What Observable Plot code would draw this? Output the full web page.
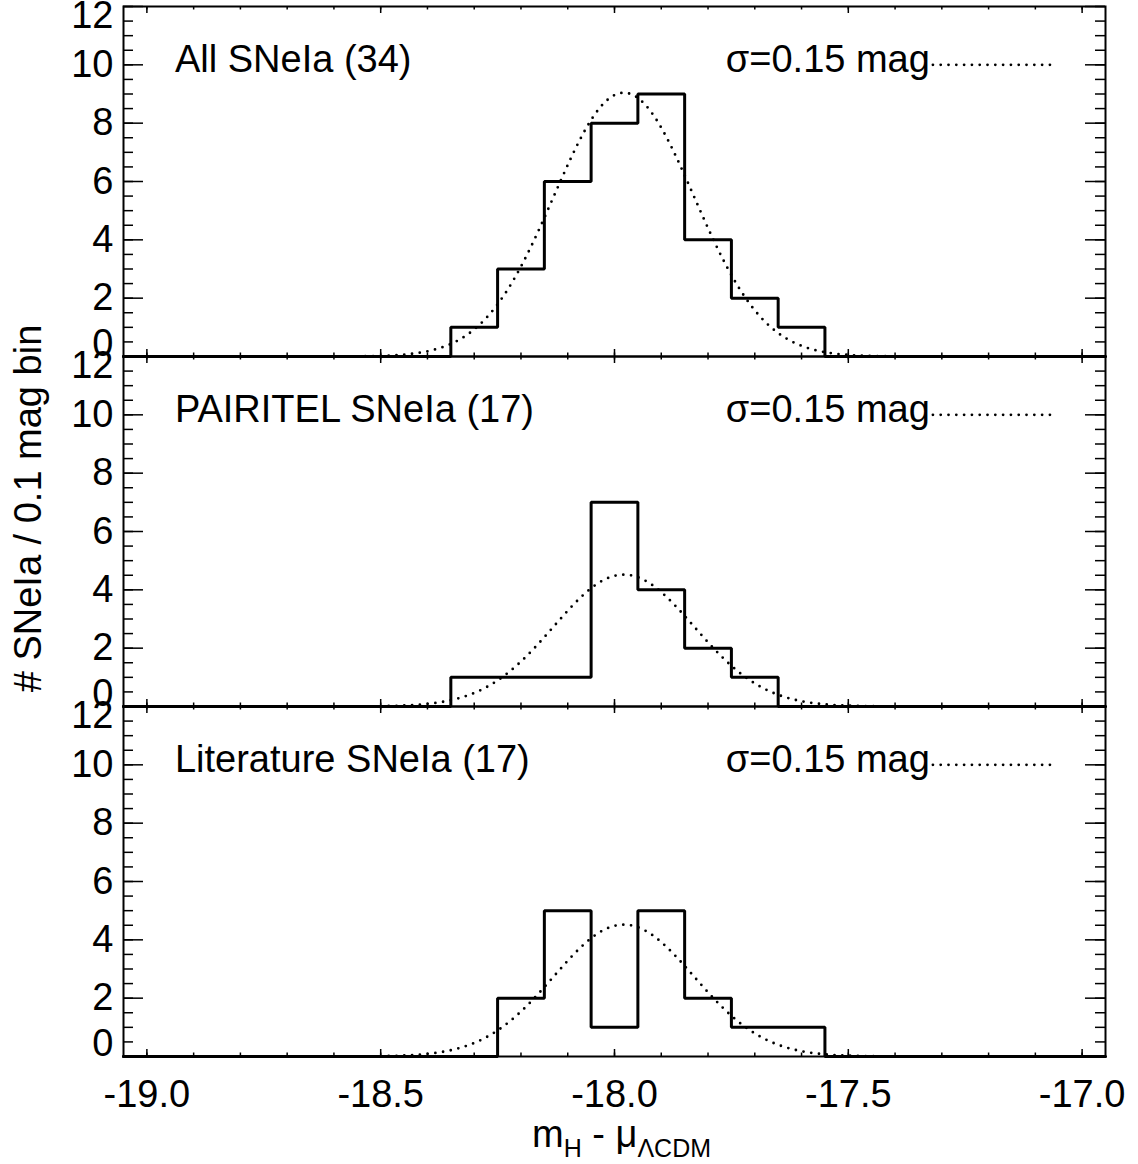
<!DOCTYPE html>
<html><head><meta charset="utf-8">
<script src="https://cdn.jsdelivr.net/npm/d3@7"></script>
<script src="https://cdn.jsdelivr.net/npm/@observablehq/plot@0.6"></script>
<style>
html,body{margin:0;padding:0;background:#fff;}
#chart svg{display:block;}
</style></head><body><div id="chart"></div>
<script>
// ---- data ----
const panelKeys = ["all", "pairitel", "lit"];
const panelLabels = ["All SNeIa (34)", "PAIRITEL SNeIa (17)", "Literature SNeIa (17)"];
const panelCounts = [34, 17, 17];
const binLefts = [-18.35, -18.25, -18.15, -18.05, -17.95, -17.85, -17.75, -17.65];
const countsAll = [1, 3, 6, 8, 9, 4, 2, 1];
const countsPairitel = [1, 1, 1, 7, 4, 2, 1, 0];
const countsLiterature = [0, 2, 5, 1, 5, 2, 1, 1];
const binWidth = 0.1;
const gaussMean = -17.98;
const gaussSigma = 0.15;
const legendText = "σ=0.15 mag";
const xTickValues = [-19.0, -18.5, -18.0, -17.5, -17.0];
const yTickValues = [0, 2, 4, 6, 8, 10, 12];
const xTitle = "m_H - μ_ΛCDM";
const yTitle = "# SNeIa / 0.1 mag bin";

// ---- layout ----
const W = 1138, H = 1164, mt = 5, mb = 107, ml = 123, mr = 33;
const xDomain = [-19.05, -16.95];
const yDomain = [0, 12];
const ux = (xDomain[1] - xDomain[0]) / (W - ml - mr);        // data units per px (x)
const facetH = (H - mt - mb) / 3;
const uy = (yDomain[1] - yDomain[0]) / facetH;               // data units per px (y)
const FONT = "Liberation Sans, Arial, Helvetica, sans-serif";

const countsByPanel = [countsAll, countsPairitel, countsLiterature];
const histPts = [];
panelKeys.forEach((k, i) => {
  const c = countsByPanel[i];
  histPts.push({panel: k, x: xDomain[0], y: 0});
  histPts.push({panel: k, x: binLefts[0], y: 0});
  binLefts.forEach((l, j) => {
    histPts.push({panel: k, x: l, y: c[j]});
    histPts.push({panel: k, x: l + binWidth, y: c[j]});
  });
  histPts.push({panel: k, x: binLefts[binLefts.length - 1] + binWidth, y: 0});
  histPts.push({panel: k, x: xDomain[1], y: 0});
});

const gaussPts = [];
panelKeys.forEach((k, i) => {
  const A = panelCounts[i] * binWidth / (gaussSigma * Math.sqrt(2 * Math.PI));
  for (let t = 0; t <= 1050; t++) {
    const x = xDomain[0] + t * 0.002;
    gaussPts.push({panel: k, x, y: A * Math.exp(-((x - gaussMean) ** 2) / (2 * gaussSigma ** 2))});
  }
});

const yMinor = d3.range(0, 25).map(i => i * 0.5);
const xMinor = d3.range(-190, -169).map(i => i / 10);

const dotted = {stroke: "black", strokeWidth: 2.8, strokeDasharray: "0 7.8", strokeLinecap: "round"};
const tk = {stroke: "black", strokeWidth: 1.5};
const x0 = xDomain[0], x1 = xDomain[1];

const chart = Plot.plot({
  width: W, height: H,
  marginTop: mt, marginBottom: mb, marginLeft: ml, marginRight: mr,
  x: {domain: xDomain, axis: null},
  y: {domain: yDomain, axis: null},
  fy: {domain: panelKeys, axis: null, padding: 0},
  style: {fontFamily: FONT, fontSize: "38px", background: "white", color: "black"},
  marks: [
    // ticks (repeated in every panel)
    Plot.ruleY(yMinor, {y: d => d, x1: x0, x2: x0 + 10 * ux, ...tk}),
    Plot.ruleY(yTickValues, {y: d => d, x1: x0, x2: x0 + 20 * ux, ...tk}),
    Plot.ruleY(yMinor, {y: d => d, x1: x1 - 10 * ux, x2: x1, ...tk}),
    Plot.ruleY(yTickValues, {y: d => d, x1: x1 - 20 * ux, x2: x1, ...tk}),
    Plot.ruleX(xMinor, {x: d => d, y1: 0, y2: 3.5 * uy, ...tk}),
    Plot.ruleX(xMinor, {x: d => d, y1: 12 - 3.5 * uy, y2: 12, ...tk}),
    Plot.ruleX(xTickValues, {x: d => d, y1: 0, y2: 7 * uy, ...tk}),
    Plot.ruleX(xTickValues, {x: d => d, y1: 12 - 7 * uy, y2: 12, ...tk}),
    // y tick labels
    Plot.text(yTickValues.filter(d => d > 0 && d < 12), {x: x0, y: d => d, text: d => String(d), dx: -10, textAnchor: "end", fontSize: 38}),
    Plot.text(yTickValues.filter(d => d === 0), {x: x0, y: d => d, text: d => String(d), dx: -10, dy: -13, textAnchor: "end", fontSize: 38}),
    Plot.text(yTickValues.filter(d => d === 12), {x: x0, y: d => d, text: d => String(d), dx: -10, dy: 9, textAnchor: "end", fontSize: 38}),
    // gaussian models
    Plot.line(gaussPts, {x: "x", y: "y", fy: "panel", z: "panel", ...dotted}),
    // histograms
    Plot.line(histPts, {x: "x", y: "y", fy: "panel", z: "panel", stroke: "black", strokeWidth: 3, strokeLinejoin: "miter"}),
    // panel labels
    Plot.text(panelKeys, {fy: d => d, x: -18.94, y: 10, text: (d, i) => panelLabels[i], textAnchor: "start", dy: -5, fontSize: 38}),
    // legend
    Plot.text([legendText], {x: -17.762, y: 10, text: d => d, textAnchor: "start", dy: -5, fontSize: 38}),
    Plot.ruleY([10], {y: d => d, x1: -17.318, x2: -17.055, ...dotted}),
    // frame
    Plot.frame({stroke: "black", strokeWidth: 2}),
    // x tick labels
    Plot.text(xTickValues, {x: d => d, y: 0, fy: () => "lit", text: d => d.toFixed(1), dy: 38, fontSize: 38}),
    // axis titles
    Plot.text([xTitle], {fy: () => "lit", frameAnchor: "bottom", text: d => d, dx: 7, dy: 78, textAnchor: "middle", lineAnchor: "middle", fontSize: 38}),
    Plot.text([yTitle], {fy: () => "pairitel", frameAnchor: "left", text: d => d, dx: -95, dy: -23, rotate: -90, textAnchor: "middle", lineAnchor: "middle", fontSize: 38})
  ]
});

document.getElementById("chart").appendChild(chart);

// rich text (subscripts) for the x title
d3.select(chart).selectAll("text").filter(function () { return this.textContent === xTitle; }).each(function () {
  const t = d3.select(this);
  t.text(null);
  t.append("tspan").text("m");
  t.append("tspan").attr("dy", 10).attr("font-size", 25).text("H");
  t.append("tspan").attr("dy", -10).attr("font-size", 38).text(" - μ");
  t.append("tspan").attr("dy", 10).attr("font-size", 25).text("ΛCDM");
});
</script>
</body></html>
